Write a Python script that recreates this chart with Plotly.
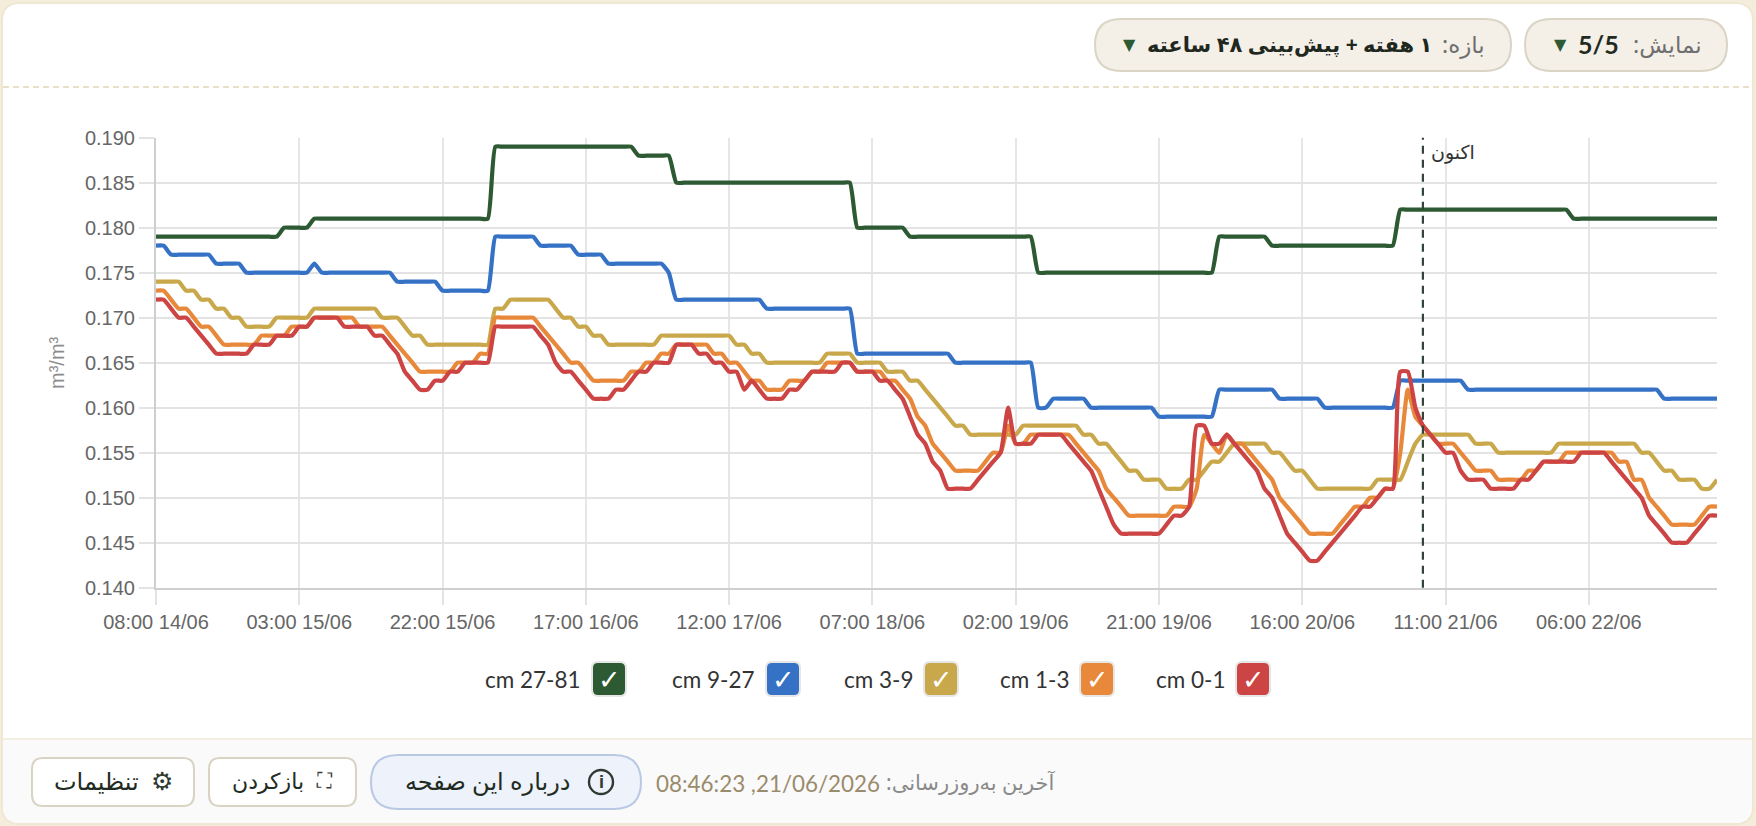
import pandas as pd
import plotly.graph_objects as go

W, H = 1756, 826

# hourly values, in thousandths of m3/m3
cm_0_1 = [172,172,171,170,170,169,168,167,166,166,166,166,166,167,167,167,168,168,168,169,
          169,170,170,170,170,169,169,169,169,168,168,167,166,164,163,162,162,163,163,164,
          164,165,165,165,165,169,169,169,169,169,169,168,167,165,164,164,163,162,161,161,
          161,162,162,163,164,164,165,165,165,167,167,167,166,166,165,165,164,164,162,163,
          162,161,161,161,162,162,163,164,164,164,164,165,165,164,164,164,163,163,162,161,
          159,157,156,154,153,151,151,151,151,152,153,154,155,160,156,156,156,157,157,157,
          157,156,155,154,153,151,149,147,146,146,146,146,146,146,147,148,148,149,158,158,
          156,156,157,156,155,154,153,151,150,148,146,145,144,143,143,144,145,146,147,148,
          149,149,150,151,151,164,164,160,158,157,156,155,155,153,152,152,152,151,151,151,
          151,152,152,153,154,154,154,154,154,155,155,155,155,154,153,152,151,150,148,147,
          146,145,145,145,146,147,148,148]
cm_1_3 = [173,173,172,171,171,170,169,169,168,167,167,167,167,167,168,168,168,168,169,169,
          169,170,170,170,170,170,170,169,169,169,169,168,167,166,165,164,164,164,164,164,
          165,165,165,166,166,170,170,170,170,170,170,169,168,167,166,165,165,164,163,163,
          163,163,163,164,164,165,165,166,166,167,167,167,167,167,166,166,165,165,164,163,
          163,162,162,162,163,163,163,164,164,165,165,165,165,164,164,164,164,163,163,162,
          161,159,158,156,155,154,153,153,153,153,154,155,155,158,156,156,157,157,157,157,
          157,157,156,155,154,153,151,150,149,148,148,148,148,148,148,149,149,149,151,157,
          156,155,157,156,156,155,154,153,152,150,149,148,147,146,146,146,146,147,148,149,
          149,150,150,151,151,155,162,159,158,157,156,156,156,155,154,153,153,153,152,152,
          152,152,153,153,154,154,154,155,155,155,155,155,155,155,154,154,152,152,150,149,
          148,147,147,147,147,148,149,149]
cm_3_9 = [174,174,174,174,173,173,172,172,171,171,170,170,169,169,169,169,170,170,170,170,
          170,171,171,171,171,171,171,171,171,171,170,170,170,169,168,168,167,167,167,167,
          167,167,167,167,167,171,171,172,172,172,172,172,172,171,170,170,169,169,168,168,
          167,167,167,167,167,167,167,168,168,168,168,168,168,168,168,168,168,167,167,166,
          166,165,165,165,165,165,165,165,165,166,166,166,166,165,165,165,165,164,164,164,
          163,163,162,161,160,159,158,158,157,157,157,157,157,157,157,158,158,158,158,158,
          158,158,158,157,157,156,156,155,154,153,153,152,152,152,151,151,151,152,152,153,
          154,154,155,156,156,156,156,156,155,155,154,153,153,152,151,151,151,151,151,151,
          151,151,152,152,152,152,154,156,157,157,157,157,157,157,157,156,156,156,155,155,
          155,155,155,155,155,155,156,156,156,156,156,156,156,156,156,156,156,155,155,154,
          153,153,152,152,152,151,151,152]
cm_9_27 = [178,178,177,177,177,177,177,177,176,176,176,176,175,175,175,175,175,175,175,175,
           175,176,175,175,175,175,175,175,175,175,175,175,174,174,174,174,174,174,173,173,
           173,173,173,173,173,179,179,179,179,179,179,178,178,178,178,178,177,177,177,177,
           176,176,176,176,176,176,176,176,175,172,172,172,172,172,172,172,172,172,172,172,
           172,171,171,171,171,171,171,171,171,171,171,171,171,166,166,166,166,166,166,166,
           166,166,166,166,166,166,165,165,165,165,165,165,165,165,165,165,165,160,160,161,
           161,161,161,161,160,160,160,160,160,160,160,160,160,159,159,159,159,159,159,159,
           159,162,162,162,162,162,162,162,162,161,161,161,161,161,161,160,160,160,160,160,
           160,160,160,160,160,163,163,163,163,163,163,163,163,163,162,162,162,162,162,162,
           162,162,162,162,162,162,162,162,162,162,162,162,162,162,162,162,162,162,162,162,
           161,161,161,161,161,161,161,161]
cm_27_81 = [179,179,179,179,179,179,179,179,179,179,179,179,179,179,179,179,179,180,180,180,
            180,181,181,181,181,181,181,181,181,181,181,181,181,181,181,181,181,181,181,181,
            181,181,181,181,181,189,189,189,189,189,189,189,189,189,189,189,189,189,189,189,
            189,189,189,189,188,188,188,188,188,185,185,185,185,185,185,185,185,185,185,185,
            185,185,185,185,185,185,185,185,185,185,185,185,185,180,180,180,180,180,180,180,
            179,179,179,179,179,179,179,179,179,179,179,179,179,179,179,179,179,175,175,175,
            175,175,175,175,175,175,175,175,175,175,175,175,175,175,175,175,175,175,175,175,
            175,179,179,179,179,179,179,179,178,178,178,178,178,178,178,178,178,178,178,178,
            178,178,178,178,178,182,182,182,182,182,182,182,182,182,182,182,182,182,182,182,
            182,182,182,182,182,182,182,182,181,181,181,181,181,181,181,181,181,181,181,181,
            181,181,181,181,181,181,181,181]

hour_labels = pd.date_range("2026-06-14 08:00", periods=208, freq="h").strftime("%H:%M %d/%m").tolist()
now_label = "08:00 21/06"
for s in [cm_0_1, cm_1_3, cm_3_9, cm_9_27, cm_27_81]:
    assert len(s) == 208, len(s)

series_names = ["cm 0-1", "cm 1-3", "cm 3-9", "cm 9-27", "cm 27-81"]
series_values = [cm_0_1, cm_1_3, cm_3_9, cm_9_27, cm_27_81]
series_colors = ["#cc4444", "#e8883a", "#c8a84b", "#3572c6", "#2d5a32"]

# left edge of each legend box
legend_box_x = [1236, 1080, 924, 766, 592]

PERSIAN = "Noto Sans, DejaVu Sans, sans-serif"
LATIN = "Lato, Noto Sans, sans-serif"
SANS = "Liberation Sans, Arial, sans-serif"


def px(x):
    return x / W


def py(y):
    return 1 - y / H


def rtl(s):
    # svg text has an ltr base, so wrap persian strings in an rtl embedding
    return "\u202b" + s + "\u202c"


def round_rect(x0, y0, x1, y1, r, fill, line=None, lw=2, bottom_only=False):
    # rounded box given in page pixels
    rt = 0 if bottom_only else r
    path = (f"M {px(x0 + rt)} {py(y0)} L {px(x1 - rt)} {py(y0)} "
            f"Q {px(x1)} {py(y0)} {px(x1)} {py(y0 + rt)} L {px(x1)} {py(y1 - r)} "
            f"Q {px(x1)} {py(y1)} {px(x1 - r)} {py(y1)} L {px(x0 + r)} {py(y1)} "
            f"Q {px(x0)} {py(y1)} {px(x0)} {py(y1 - r)} L {px(x0)} {py(y0 + rt)} "
            f"Q {px(x0)} {py(y0)} {px(x0 + rt)} {py(y0)} Z")
    return dict(type="path", path=path, xref="paper", yref="paper", layer="below", fillcolor=fill,
                line=dict(color=line if line else fill, width=lw if line else 0))


def label(x, y, s, size, color, anchor="center", family=PERSIAN, **kw):
    return dict(x=px(x), y=py(y), xref="paper", yref="paper", text=s, showarrow=False, xanchor=anchor,
                yanchor="middle", font=dict(size=size, color=color, family=family), **kw)


fig = go.Figure()
for name, vals, color in reversed(list(zip(series_names, series_values, series_colors))):
    fig.add_trace(go.Scatter(x=hour_labels, y=[v / 1000 for v in vals], mode="lines", name=name,
                             line=dict(color=color, width=4.2, shape="spline", smoothing=0.5, simplify=False)))

shapes = [
    round_rect(2, 3, 1753, 824, 18, "#ffffff", "#efe7d3"),
    round_rect(3, 739, 1752, 823, 17, "#fafafa", bottom_only=True),
    dict(type="line", xref="paper", yref="paper", layer="below", x0=px(3), x1=px(1752), y0=py(739), y1=py(739),
         line=dict(color="#f0ebdd", width=1.5)),
    dict(type="line", xref="paper", yref="paper", layer="below", x0=px(3), x1=px(1752), y0=py(87), y1=py(87),
         line=dict(color="#e8e0c6", width=2, dash="6px,4px")),
    # top pills
    round_rect(1525, 19, 1727, 71, 26, "#f4f0e8", "#dad4c4"),
    round_rect(1095, 19, 1511, 71, 26, "#f4f0e8", "#dad4c4"),
    # footer buttons
    round_rect(32, 758, 194, 806, 11, "#ffffff", "#d9d3c3"),
    round_rect(209, 758, 356, 806, 11, "#ffffff", "#d9d3c3"),
    round_rect(371, 755, 641, 809, 27, "#edf2fb", "#b9c9e4"),
    dict(type="circle", xref="paper", yref="paper", x0=px(589), x1=px(613), y0=py(770), y1=py(794),
         line=dict(color="#2f3a33", width=2.4)),
    # now marker
    dict(type="line", xref="x", yref="paper", x0=now_label, x1=now_label, y0=py(587.7), y1=py(137.7),
         line=dict(color="#33453a", width=2.2, dash="8px,6px")),
]

annotations = [
    label(57, 363, "m³/m³", 20, "#8c8c8c", family=SANS, textangle=-90),
    label(1429, 152, rtl("اکنون"), 19, "#333333", "left"),
    # top pills
    label(1704, 44, rtl("نمایش:"), 23, "#6f6f6f", "right"),
    label(1621, 44, "<b>5/5</b>", 25, "#222b22", "right", family=LATIN),
    label(1560, 44, "▼", 16, "#2d5a32", family="DejaVu Sans"),
    label(1487, 44, rtl("بازه:"), 23, "#6f6f6f", "right"),
    label(1434, 44, "<b>" + rtl("۱ هفته + پیش‌بینی ۴۸ ساعته") + "</b>", 21, "#1f281f", "right"),
    label(1129, 44, "▼", 16, "#2d5a32", family="DejaVu Sans"),
    # footer
    label(1058, 782, rtl("آخرین به‌روزرسانی:"), 21, "#8a8a8a", "right"),
    label(654, 783, "08:46:23 ,21/06/2026", 22.4, "#9a8b6c", "left", family=LATIN),
    label(572, 780, rtl("درباره این صفحه"), 24, "#222b22", "right"),
    label(601, 782, "<b>i</b>", 18, "#2f3a33", family=SANS),
    label(306, 780, rtl("بازکردن"), 22, "#222b22", "right"),
    label(324, 781, "⛶", 21, "#3a3a3a", family="DejaVu Sans"),
    label(141, 780, rtl("تنظیمات"), 24, "#222b22", "right"),
    label(162, 781, "⚙", 25, "#2f3a33", family="DejaVu Sans"),
]

# series toggles under the chart
for name, color, bx in zip(series_names, series_colors, legend_box_x):
    shapes.append(round_rect(bx, 662, bx + 34, 696, 6, color, "#e6e6e6", 2))
    annotations.append(label(bx + 17, 679, "✓", 27, "#ffffff", family="DejaVu Sans"))
    annotations.append(label(bx - 9, 679, name, 22.5, "#333333", "right", family=LATIN))

fig.update_layout(
    width=W, height=H,
    margin=dict(l=0, r=0, t=0, b=0),
    paper_bgcolor="#f5eddb",
    plot_bgcolor="rgba(0,0,0,0)",
    showlegend=False,
    shapes=shapes,
    annotations=annotations,
    xaxis=dict(domain=[px(156), px(1717)], type="category", range=[0, 207], automargin=False,
               tickmode="array", tickvals=hour_labels[::19], ticks="outside", ticklen=15, tickwidth=1.5,
               tickcolor="#e3e3e3", gridcolor="#e6e6e6", gridwidth=1.5, showline=True, linecolor="#cfcfcf",
               linewidth=2, tickangle=0, tickfont=dict(size=20, color="#666666", family=SANS)),
    yaxis=dict(domain=[py(587.7), py(137.7)], range=[0.14, 0.19], dtick=0.005, tickformat=".3f", automargin=False,
               ticks="outside", ticklen=15, tickwidth=2, tickcolor="#e3e3e3", gridcolor="#e3e3e3", gridwidth=2,
               showline=True, linecolor="#cfcfcf", linewidth=2, zeroline=False,
               tickfont=dict(size=20, color="#666666", family=SANS)),
)

fig.write_html("out.html", config={"displayModeBar": False},
               post_script="document.body.style.margin='0';document.body.style.overflow='hidden';")
